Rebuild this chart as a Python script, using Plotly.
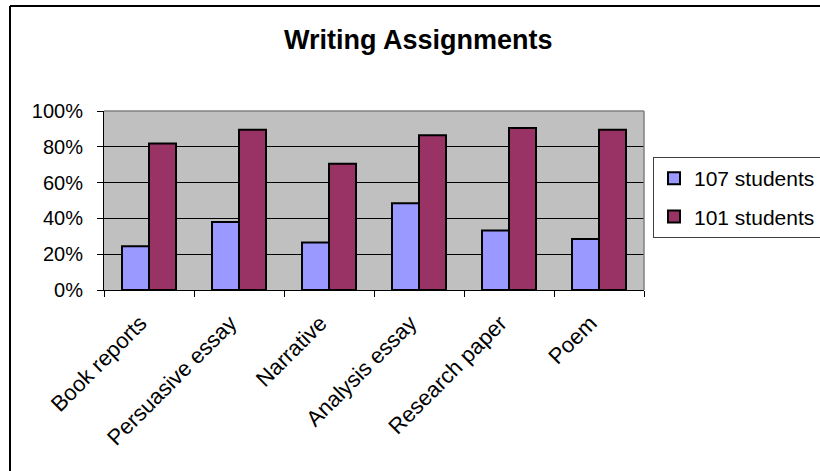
import plotly.graph_objects as go

categories = ["Book reports", "Persuasive essay", "Narrative", "Analysis essay", "Research paper", "Poem"]
series_names = ["107 students", "101 students"]
s107 = [0.245, 0.38, 0.265, 0.485, 0.333, 0.285]
s101 = [0.818, 0.895, 0.705, 0.865, 0.905, 0.895]
y_ticks = [0, 0.2, 0.4, 0.6, 0.8, 1.0]

FONT = "Liberation Sans, Arial, sans-serif"

fig = go.Figure()
fig.add_trace(go.Bar(x=categories, y=s107, name=series_names[0], legendgroup="g1",
                     marker=dict(color="#9999FF", line=dict(color="black", width=2))))
fig.add_trace(go.Bar(x=categories, y=s101, name=series_names[1], legendgroup="g2",
                     marker=dict(color="#993366", line=dict(color="black", width=2))))

W, H = 820, 471
L, R, T, B = 104, 176, 111, 181
pw, ph = W - L - R, H - T - B

def px_x(p):
    return (p - L) / pw

def px_y(p):
    return (H - B - p) / ph

pad = "\u00a0\u00a0"
tick_text = [c + pad for c in categories]

fig.update_layout(
    width=W, height=H,
    margin=dict(l=L, r=R, t=T, b=B, autoexpand=False),
    paper_bgcolor="white",
    plot_bgcolor="#C0C0C0",
    barmode="group",
    bargap=0.4,
    bargroupgap=0,
    font=dict(family=FONT, size=20, color="black"),
    title=dict(text="<b>Writing Assignments</b>", x=0.51, xanchor="center",
               y=1 - 40 / H, yanchor="middle", font=dict(size=27, family=FONT)),
    showlegend=True,
    legend=dict(x=px_x(653), y=px_y(157), xanchor="left", yanchor="top",
                bgcolor="white", bordercolor="#404040", borderwidth=1,
                font=dict(size=21, family=FONT), traceorder="grouped",
                tracegroupgap=8, itemwidth=30),
    xaxis=dict(type="category", showline=True, linecolor="black", linewidth=1,
               ticks="outside", ticklen=6, tickcolor="black", tickson="boundaries",
               tickangle=-45, showgrid=False, fixedrange=True,
               tickvals=categories, ticktext=tick_text,
               tickfont=dict(size=22, family=FONT), ticklabelstandoff=2),
    yaxis=dict(range=[0, 1], tickvals=y_ticks, tickformat=".0%",
               showline=True, linecolor="black", linewidth=1,
               ticks="outside", ticklen=6, tickcolor="black",
               showgrid=True, gridcolor="black", gridwidth=1,
               zeroline=False, ticklabelstandoff=10, fixedrange=True),
    shapes=[
        dict(type="line", xref="paper", yref="paper", x0=0, x1=1, y0=1, y1=1,
             line=dict(color="#808080", width=1.5)),
        dict(type="line", xref="paper", yref="paper", x0=1, x1=1, y0=0, y1=1,
             line=dict(color="#808080", width=1.5)),
        dict(type="line", xref="paper", yref="paper", x0=px_x(10), x1=px_x(830),
             y0=px_y(6), y1=px_y(6), line=dict(color="black", width=2)),
        dict(type="line", xref="paper", yref="paper", x0=px_x(10), x1=px_x(10),
             y0=px_y(6), y1=px_y(480), line=dict(color="black", width=2)),
    ],
)

fig.write_html("out.html")
